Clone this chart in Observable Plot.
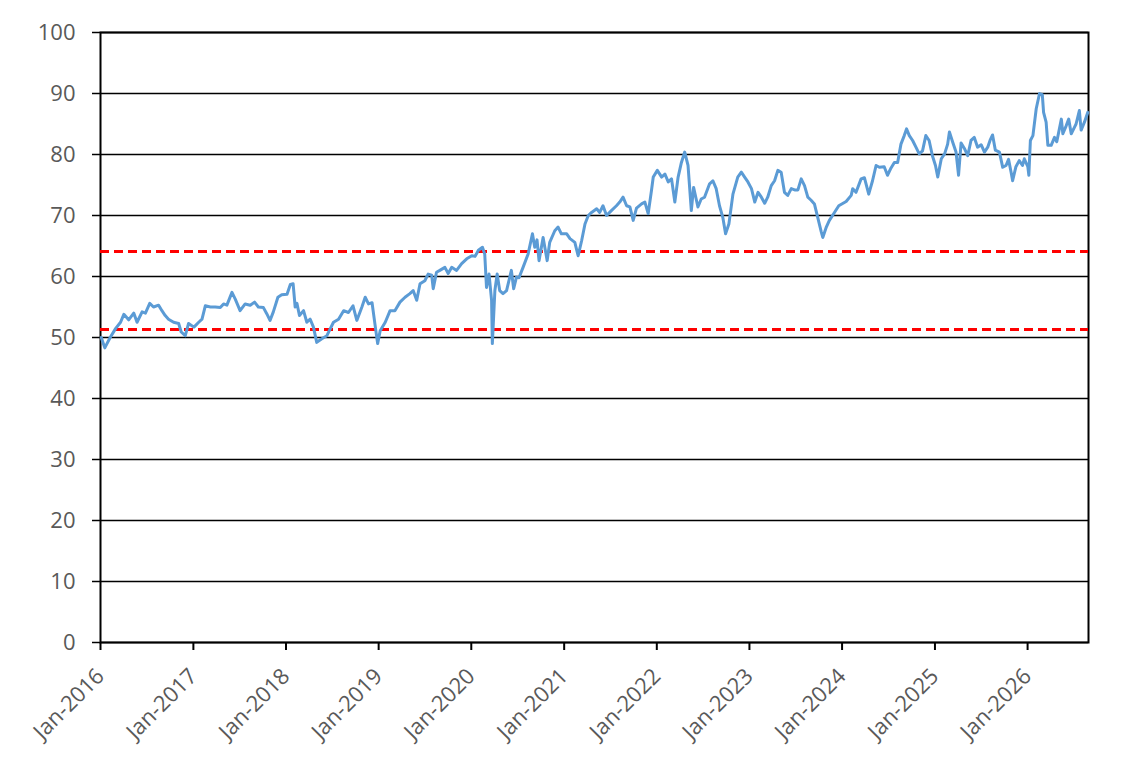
<!DOCTYPE html>
<html>
<head>
<meta charset="utf-8">
<script src="https://cdn.jsdelivr.net/npm/d3@7"></script>
<script src="https://cdn.jsdelivr.net/npm/@observablehq/plot@0.6"></script>
<style>
  html, body { margin: 0; padding: 0; background: #ffffff; }
  #chart { width: 1144px; height: 769px; }
</style>
</head>
<body>
<div id="chart"></div>
<script>
// ---- data ----
const dates = [
  "2016-01-04","2016-01-18","2016-02-08","2016-03-01","2016-03-20","2016-04-02","2016-04-21","2016-05-11","2016-05-24","2016-06-13","2016-06-26","2016-07-13","2016-07-28","2016-08-17","2016-08-30","2016-09-12","2016-09-25","2016-10-15","2016-11-04","2016-11-14","2016-11-30","2016-12-13",
  "2017-01-03","2017-01-22","2017-02-04","2017-02-17","2017-03-09","2017-03-28","2017-04-17","2017-04-30","2017-05-13","2017-06-02","2017-06-15","2017-07-04","2017-07-24","2017-08-13","2017-08-30","2017-09-14","2017-10-04","2017-10-17","2017-10-30","2017-11-12","2017-11-30","2017-12-15",
  "2018-01-05","2018-01-18","2018-01-29","2018-02-06","2018-02-13","2018-02-23","2018-03-11","2018-03-24","2018-04-06","2018-04-19","2018-05-02","2018-05-22","2018-06-11","2018-07-07","2018-07-27","2018-08-16","2018-09-04","2018-09-22","2018-10-07","2018-10-27","2018-11-09","2018-11-22","2018-12-06","2018-12-19","2018-12-28",
  "2019-01-07","2019-01-27","2019-02-15","2019-03-06","2019-03-26","2019-04-15","2019-05-04","2019-05-17","2019-05-31","2019-06-13","2019-07-02","2019-07-15","2019-07-29","2019-08-04","2019-08-17","2019-08-30","2019-09-19","2019-10-02","2019-10-16","2019-11-04","2019-11-24","2019-12-14",
  "2020-01-03","2020-01-16","2020-01-29","2020-02-14","2020-02-23","2020-03-01","2020-03-11","2020-03-21","2020-03-24","2020-04-03","2020-04-12","2020-04-22","2020-05-05","2020-05-19","2020-06-07","2020-06-16","2020-06-27","2020-07-07","2020-07-23","2020-08-12","2020-08-29","2020-09-07","2020-09-16","2020-09-24","2020-10-10","2020-10-26","2020-11-05","2020-11-25","2020-12-08","2020-12-21",
  "2021-01-11","2021-01-24","2021-02-12","2021-02-25","2021-03-11","2021-03-24","2021-04-06","2021-04-19","2021-05-09","2021-05-21","2021-06-03","2021-06-17","2021-07-06","2021-07-26","2021-08-08","2021-08-21","2021-09-04","2021-09-17","2021-09-30","2021-10-13","2021-11-02","2021-11-15","2021-11-28","2021-12-11","2021-12-18",
  "2022-01-03","2022-01-20","2022-02-02","2022-02-15","2022-02-28","2022-03-13","2022-03-26","2022-04-08","2022-04-21","2022-05-04","2022-05-17","2022-05-26","2022-06-12","2022-06-25","2022-07-08","2022-07-28","2022-08-10","2022-08-23","2022-09-05","2022-09-18","2022-09-29","2022-10-12","2022-10-28","2022-11-16","2022-11-30","2022-12-13","2022-12-26",
  "2023-01-09","2023-01-22","2023-02-04","2023-02-17","2023-03-02","2023-03-14","2023-03-28","2023-04-10","2023-04-23","2023-05-06","2023-05-19","2023-06-01","2023-06-15","2023-06-28","2023-07-11","2023-07-24","2023-08-06","2023-08-19","2023-09-01","2023-09-14","2023-09-27","2023-10-11","2023-10-17","2023-10-30","2023-11-12","2023-12-02","2023-12-19",
  "2024-01-17","2024-02-06","2024-02-12","2024-02-25","2024-03-16","2024-03-29","2024-04-15","2024-04-30","2024-05-14","2024-05-27","2024-06-15","2024-06-28","2024-07-12","2024-07-25","2024-08-07","2024-08-20","2024-09-02","2024-09-11","2024-09-22","2024-10-05","2024-10-18","2024-10-31","2024-11-13","2024-11-26","2024-12-09","2024-12-22",
  "2025-01-03","2025-01-12","2025-01-26","2025-02-08","2025-02-20","2025-02-27","2025-03-12","2025-03-25","2025-04-04","2025-04-14","2025-04-27","2025-05-10","2025-05-23","2025-06-05","2025-06-18","2025-07-02","2025-07-15","2025-07-28","2025-08-06","2025-08-16","2025-08-27","2025-09-12","2025-09-25","2025-10-08","2025-10-18","2025-10-28","2025-11-03","2025-11-16","2025-11-29","2025-12-12","2025-12-19",
  "2026-01-02","2026-01-06","2026-01-12","2026-01-22","2026-02-04","2026-02-17","2026-02-28","2026-03-05","2026-03-15","2026-03-22","2026-04-04","2026-04-17","2026-04-26","2026-05-14","2026-05-20","2026-06-02","2026-06-12","2026-06-22","2026-07-05","2026-07-11","2026-07-24","2026-07-31","2026-08-13","2026-08-26"
];
const values = [
  50.0,48.3,50.0,51.5,52.5,53.8,52.9,54.0,52.5,54.2,54.0,55.6,55.0,55.3,54.4,53.6,53.0,52.5,52.3,50.9,50.3,52.3,
  51.7,52.5,53.0,55.2,55.0,55.0,54.9,55.5,55.3,57.4,56.3,54.4,55.5,55.3,55.8,55.0,54.9,53.9,52.8,54.2,56.6,57.0,
  57.1,58.7,58.8,55.0,55.6,53.6,54.4,52.5,53.0,51.7,49.2,49.8,50.3,52.5,53.0,54.4,54.1,55.2,52.8,55.0,56.6,55.5,55.7,51.7,49.0,
  51.1,52.5,54.4,54.4,55.8,56.6,57.2,57.7,56.1,58.8,59.3,60.4,60.2,58.0,60.7,61.0,61.5,60.5,61.5,61.0,62.1,62.9,
  63.4,63.3,64.3,64.8,63.7,58.2,60.4,56.1,49.0,57.7,60.4,57.7,57.2,57.7,61.0,58.0,59.9,59.8,61.5,63.7,67.0,64.8,66.0,62.6,66.4,62.6,65.6,67.5,68.1,67.0,
  67.0,66.2,65.6,63.4,65.9,68.6,70.0,70.5,71.1,70.5,71.6,70.0,70.8,71.6,72.2,73.0,71.6,71.4,69.2,71.2,71.9,72.2,70.3,74.1,76.3,
  77.4,76.3,76.8,75.5,76.0,72.2,76.3,78.7,80.4,78.2,70.8,74.6,71.4,72.7,73.0,75.2,75.7,74.4,71.6,69.7,67.0,68.6,73.5,76.3,77.1,76.3,75.5,
  74.4,72.2,73.8,73.0,72.0,73.0,74.9,75.7,77.4,77.1,73.8,73.3,74.4,74.2,74.2,76.0,74.9,73.0,72.5,71.9,69.7,67.3,66.4,68.0,69.2,70.5,71.6,
  72.3,73.3,74.4,73.8,76.0,76.2,73.5,75.7,78.2,77.9,78.0,76.6,77.8,78.7,78.7,81.7,83.1,84.2,83.1,82.3,81.2,80.1,80.6,83.1,82.3,79.8,
  78.2,76.3,79.3,80.1,81.7,83.7,82.0,80.4,76.6,81.9,81.0,79.8,82.3,82.8,81.2,81.6,80.4,81.2,82.3,83.2,80.7,80.4,77.9,78.2,79.2,77.1,75.7,78.0,79.0,78.2,79.3,
  78.0,76.6,82.3,83.1,87.5,90.0,89.8,86.9,85.3,81.5,81.5,82.8,82.1,85.8,83.4,84.7,85.8,83.4,84.5,85.0,87.2,84.0,85.3,86.9
];
const refLevels = [64.1, 51.3];
const yTicks = [0, 10, 20, 30, 40, 50, 60, 70, 80, 90, 100];
const xTickYears = [2016, 2017, 2018, 2019, 2020, 2021, 2022, 2023, 2024, 2025, 2026];
const xStart = "2016-01-01";
const xEnd = "2026-08-29";

// ---- build ----
const parse = d3.utcParse("%Y-%m-%d");
const series = dates.map((d, i) => ({date: parse(d), value: values[i]}));
const xTicks = xTickYears.map(y => new Date(Date.UTC(y, 0, 1)));
const fmt = d3.utcFormat("%b-%Y");
const FONT = "'Open Sans', sans-serif";

const chart = Plot.plot({
  width: 1144,
  height: 769,
  marginLeft: 100,
  marginRight: 56,
  marginTop: 32,
  marginBottom: 127,
  style: {fontFamily: FONT, fontSize: "22px", color: "#595959", background: "#ffffff"},
  x: {type: "utc", domain: [parse(xStart), parse(xEnd)]},
  y: {domain: [0, 100]},
  marks: [
    Plot.gridY(yTicks, {stroke: "#000000", strokeOpacity: 1, strokeWidth: 1.5}),
    Plot.axisY(yTicks, {tickSize: 8, tickPadding: 17, stroke: "#000000", strokeWidth: 1.5, fill: "#595959", fontSize: 22, fontFamily: FONT, label: null}),
    Plot.axisX(xTicks, {tickSize: 8, tickPadding: 22, tickRotate: -45, tickFormat: fmt, stroke: "#000000", strokeWidth: 2, fill: "#595959", fontSize: 22, fontFamily: FONT, label: null}),
    Plot.frame({stroke: "#000000", strokeWidth: 2}),
    Plot.ruleY(refLevels, {stroke: "#FF0000", strokeWidth: 3, strokeDasharray: "9,5"}),
    Plot.lineY(series, {x: "date", y: "value", stroke: "#5B9BD5", strokeWidth: 3, strokeLinejoin: "round"})
  ]
});
document.getElementById("chart").appendChild(chart);
</script>
</body>
</html>
